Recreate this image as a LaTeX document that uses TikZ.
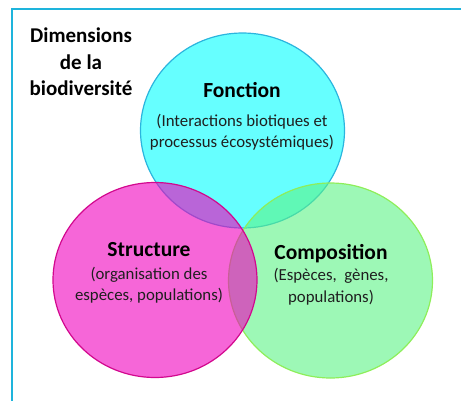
\documentclass[tikz,border=0pt]{standalone}
\usepackage{fontspec}
\setmainfont{Carlito}
\usetikzlibrary{shapes.geometric}
\definecolor{framecol}{HTML}{1EB4DC}
\definecolor{fonccol}{HTML}{00FFFF}
\definecolor{foncline}{HTML}{2BB5DE}
\definecolor{strucol}{HTML}{F000BE}
\definecolor{struline}{HTML}{D2088E}
\definecolor{compcol}{HTML}{5CF486}
\definecolor{compline}{HTML}{8EEE5A}
\tikzset{
  venn/.style={ellipse, minimum width=204pt, minimum height=195pt, inner sep=0pt, line width=1.2pt, fill opacity=0.6},
  titletext/.style={font=\fontsize{21.5}{26}\selectfont\bfseries, inner sep=0pt},
  desctext/.style={font=\fontsize{16.8}{21.5}\selectfont, text=black!88, align=center, inner sep=0pt},
}
\begin{document}
\begin{tikzpicture}[x=1pt,y=-1pt]
    \useasboundingbox (0,0) rectangle (461,400);
    \draw [framecol, line width=1.5pt] (12,9) rectangle (480,420);
    \node [venn, draw=foncline, fill=fonccol] (fonction) at (242.5,130.5) {};
    \node [venn, draw=compline, fill=compcol] (composition) at (330.5,280.5) {};
    \node [venn, draw=struline, fill=strucol] (structure) at (155,280) {};
    \node [titletext, align=center, font=\fontsize{21}{26.3}\selectfont\bfseries] (dimensions) at (81,62) {Dimensions\\de la\\biodiversité};
    \node [titletext] (fonctitle) at (242,90.5) {Fonction};
    \node [desctext] (foncdesc) at (242,132) {(Interactions biotiques et\\processus écosystémiques)};
    \node [titletext] (strutitle) at (149,250) {Structure};
    \node [desctext] (strudesc) at (149,285) {(organisation des\\espèces, populations)};
    \node [titletext] (comptitle) at (331,254) {Composition};
    \node [desctext] (compdesc) at (331,286.5) {(Espèces,~ gènes,\\populations)};
  \end{tikzpicture}
\end{document}
